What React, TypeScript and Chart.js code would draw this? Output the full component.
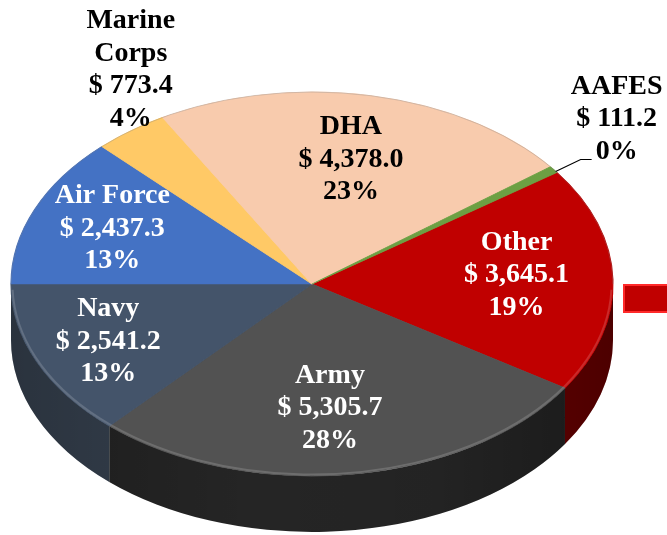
import React, { useEffect, useRef } from "react";
import { Chart, registerables } from "chart.js";

Chart.register(...registerables);

// ---- data ----
const categories = ["Other", "Army", "Navy", "Air Force", "Marine Corps", "DHA", "AAFES"];
const amounts = [3645.1, 5305.7, 2541.2, 2437.3, 773.4, 4378.0, 111.2];
const percents = ["19%", "28%", "13%", "13%", "4%", "23%", "0%"];

// ---- styles ----
const topColors = ["#C00000", "#525252", "#44546A", "#4472C4", "#FFC966", "#F8CBAD", "#6CA043"];
const sideColors = ["#6E0000", "#252525", "#36414F", "#2F5597", "#C99A3A", "#C9A080", "#4F7A2F"];
const labelColors = ["#FFFFFF", "#FFFFFF", "#FFFFFF", "#FFFFFF", "#000000", "#000000", "#000000"];
const placement: any[] = [
  { mode: "in", r: 0.68, dy: -6 },
  { mode: "in", r: 0.64, dx: -7, dy: 2 },
  { mode: "in", r: 0.74 },
  { mode: "in", r: 0.72, dy: -2 },
  { mode: "above", wrap: true, dy: -12 },
  { mode: "in", r: 0.66 },
  { mode: "leader", dx: 63, dy: -18 },
];

// ellipse geometry of the tilted pie
const CX = 312;
const CY = 284;
const RX = 301;
const RY = 192;
const DEPTH = 56;
const ROTATION = 54.44;
const FONT = "bold 28px 'Liberation Serif', 'Times New Roman', serif";
const LH = 32.5;

const fmt = (v: number) =>
  "$ " + v.toLocaleString("en-US", { minimumFractionDigits: 1, maximumFractionDigits: 1 });

const pie3d = {
  id: "pie3d",
  beforeDatasetsDraw(chart: any) {
    const ctx = chart.ctx as CanvasRenderingContext2D;
    const meta = chart.getDatasetMeta(0);
    const a0 = meta.data[0] as any;
    const r = a0.outerRadius, cx = a0.x, cy = a0.y;
    const sx = RX / r, sy = RY / r;
    ctx.save();
    ctx.translate(CX, CY);
    ctx.scale(sx, sy);
    ctx.translate(-cx, -cy);
    const d = DEPTH / sy;
    meta.data.forEach((el: any, i: number) => {
      const s = Math.max(el.startAngle, 0);
      const e = Math.min(el.endAngle, Math.PI);
      if (e <= s) return;
      ctx.beginPath();
      ctx.arc(cx, cy, r, s, e);
      ctx.arc(cx, cy + d, r, e, s, true);
      ctx.closePath();
      ctx.fillStyle = sideColors[i];
      ctx.fill();
    });
    const g = ctx.createLinearGradient(cx - r, 0, cx + r, 0);
    g.addColorStop(0, "rgba(0,0,0,0.22)");
    g.addColorStop(0.4, "rgba(0,0,0,0)");
    g.addColorStop(0.7, "rgba(0,0,0,0.05)");
    g.addColorStop(1, "rgba(0,0,0,0.3)");
    ctx.beginPath();
    ctx.arc(cx, cy, r, 0, Math.PI);
    ctx.arc(cx, cy + d, r, Math.PI, 0, true);
    ctx.closePath();
    ctx.fillStyle = g;
    ctx.fill();
  },
  afterDatasetsDraw(chart: any) {
    const ctx = chart.ctx as CanvasRenderingContext2D;
    ctx.restore();
    ctx.save();
    ctx.beginPath();
    ctx.ellipse(CX, CY, RX - 1.5, RY - 1.5, 0, 0.03, Math.PI - 0.03);
    ctx.strokeStyle = "rgba(255,255,255,0.16)";
    ctx.lineWidth = 2;
    ctx.stroke();
    ctx.beginPath();
    ctx.ellipse(CX, CY, RX, RY, 0, Math.PI, 2 * Math.PI);
    ctx.strokeStyle = "rgba(120,120,120,0.3)";
    ctx.lineWidth = 1;
    ctx.stroke();
    ctx.restore();
  },
  afterDraw(chart: any) {
    const ctx = chart.ctx as CanvasRenderingContext2D;
    const meta = chart.getDatasetMeta(0);
    ctx.save();
    ctx.font = FONT;
    ctx.textAlign = "center";
    ctx.textBaseline = "middle";
    meta.data.forEach((el: any, i: number) => {
      const mid = (el.startAngle + el.endAngle) / 2;
      const cs = Math.cos(mid), sn = Math.sin(mid);
      const p = placement[i];
      const name = p.wrap ? categories[i].split(" ") : [categories[i]];
      const lines = [...name, fmt(amounts[i]), percents[i]];
      const n = lines.length;
      let x = 0, yFirst = 0;
      if (p.mode === "in") {
        x = CX + p.r * RX * cs + (p.dx || 0);
        const yc = CY + p.r * RY * sn + (p.dy || 0);
        yFirst = yc - ((n - 1) / 2) * LH;
      } else {
        const ex = CX + RX * cs, ey = CY + RY * sn;
        x = ex + (p.dx || 0);
        const yLast = ey + p.dy;
        yFirst = yLast - (n - 1) * LH;
        if (p.mode === "leader") {
          ctx.beginPath();
          ctx.moveTo(ex + 2, ey + 2);
          ctx.lineTo(x - 36, yLast + 8);
          ctx.lineTo(x - 25, yLast + 8);
          ctx.strokeStyle = "#000";
          ctx.lineWidth = 1.2;
          ctx.stroke();
        }
      }
      ctx.fillStyle = labelColors[i];
      lines.forEach((t, k) => ctx.fillText(t, x, yFirst + k * LH));
    });
    // partial legend key at right edge
    ctx.fillStyle = "#C00000";
    ctx.fillRect(624, 285, 60, 27);
    ctx.strokeStyle = "#FF2A2A";
    ctx.lineWidth = 2;
    ctx.strokeRect(624, 285, 60, 27);
    ctx.restore();
  },
};

export default function App() {
  const ref = useRef<HTMLCanvasElement>(null);
  useEffect(() => {
    if (!ref.current) return;
    const chart = new Chart(ref.current, {
      type: "pie",
      data: {
        labels: categories,
        datasets: [
          {
            data: amounts,
            backgroundColor: topColors,
            borderColor: topColors,
            borderWidth: 1,
            clip: false as any,
          },
        ],
      },
      options: {
        responsive: false,
        animation: false,
        rotation: ROTATION,
        layout: { padding: 0 },
        plugins: { legend: { display: false }, tooltip: { enabled: false } },
      },
      plugins: [pie3d],
    });
    return () => chart.destroy();
  }, []);
  return (
    <div style={{ position: "absolute", left: 0, top: 0, width: 667, height: 535, background: "#fff" }}>
      <canvas ref={ref} width={667} height={535} />
    </div>
  );
}
